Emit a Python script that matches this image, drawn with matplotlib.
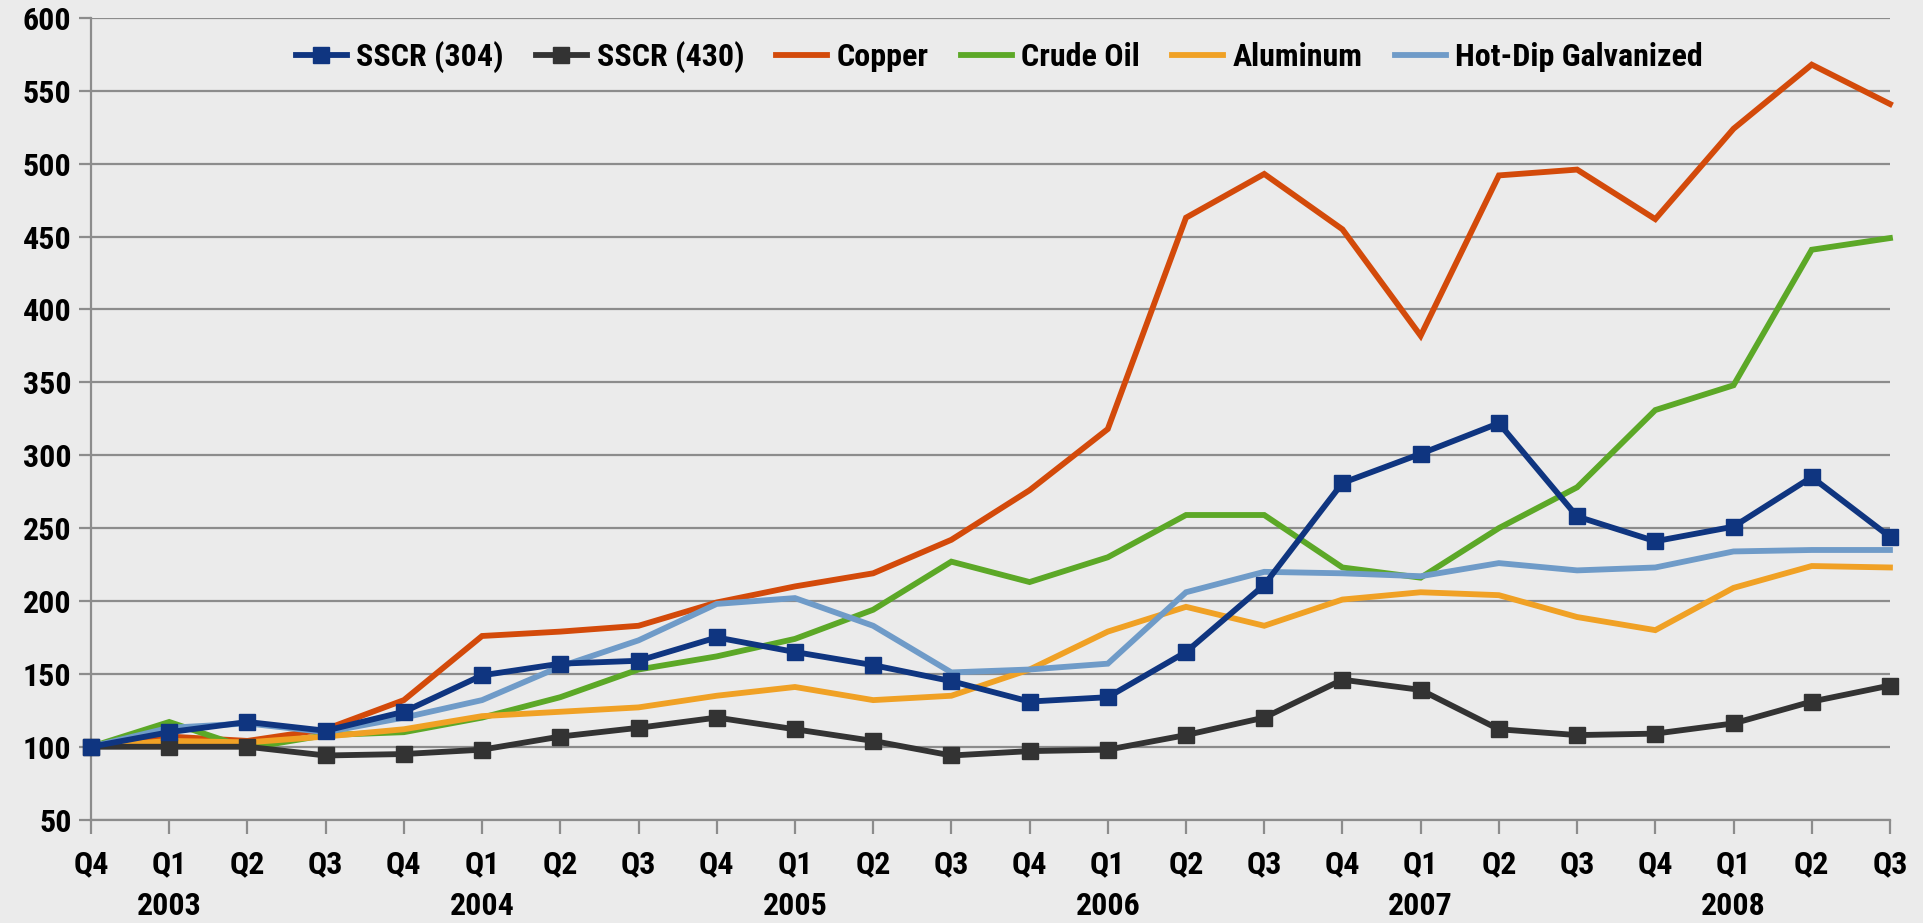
import matplotlib
matplotlib.use("Agg")
import matplotlib.pyplot as plt
from matplotlib import font_manager

quarters = ["Q4", "Q1", "Q2", "Q3", "Q4", "Q1", "Q2", "Q3", "Q4", "Q1", "Q2", "Q3",
            "Q4", "Q1", "Q2", "Q3", "Q4", "Q1", "Q2", "Q3", "Q4", "Q1", "Q2", "Q3"]
years = ["2003", "2004", "2005", "2006", "2007", "2008"]
year_idx = [1, 5, 9, 13, 17, 21]

sscr304 = [100, 110, 117, 111, 124, 149, 157, 159, 175, 165, 156, 145,
           131, 134, 165, 211, 281, 301, 322, 258, 241, 251, 285, 244]
sscr430 = [100, 100, 100, 94, 95, 98, 107, 113, 120, 112, 104, 94,
           97, 98, 108, 120, 146, 139, 112, 108, 109, 116, 131, 142]
copper = [100, 107, 104, 112, 132, 176, 179, 183, 199, 210, 219, 242,
          276, 318, 463, 493, 455, 382, 492, 496, 462, 524, 568, 541]
crude = [100, 117, 99, 108, 110, 120, 134, 153, 162, 174, 194, 227,
         213, 230, 259, 259, 223, 216, 250, 278, 331, 348, 441, 449]
aluminum = [100, 104, 103, 107, 112, 121, 124, 127, 135, 141, 132, 135,
            153, 179, 196, 183, 201, 206, 204, 189, 180, 209, 224, 223]
hdg = [100, 113, 116, 110, 120, 132, 155, 173, 198, 202, 183, 151,
       153, 157, 206, 220, 219, 217, 226, 221, 223, 234, 235, 235]

names = ["SSCR (304)", "SSCR (430)", "Copper", "Crude Oil", "Aluminum", "Hot-Dip Galvanized"]

available = {f.name for f in font_manager.fontManager.ttflist}
fams = [f for f in ["Liberation Sans Narrow", "Roboto Condensed", "Roboto", "DejaVu Sans"] if f in available]
plt.rcParams['font.family'] = fams
plt.rcParams['font.weight'] = 'bold'

FS = 23
bg = "#EBEBEB"
fig = plt.figure(figsize=(19.24, 9.23), dpi=100, facecolor=bg)
ax = fig.add_axes([0.0473, 0.112, 0.9350, 0.8685], facecolor=bg)

x = list(range(len(quarters)))
series = [
    (sscr304, "#0F3580", "s"),
    (sscr430, "#333333", "s"),
    (copper, "#D34A0A", None),
    (crude, "#5CA827", None),
    (aluminum, "#F0A125", None),
    (hdg, "#6F9BC8", None),
]
order = [2, 3, 4, 5, 1, 0]
handles = {}
for i in order:
    vals, col, mk = series[i]
    ln, = ax.plot(x, vals, color=col, lw=4.2, marker=mk, markersize=11.5,
                  solid_joinstyle='miter', clip_on=False, zorder=3 + (1 if mk else 0),
                  label=names[i])
    handles[i] = ln

ax.set_xlim(0, len(quarters) - 1)
ax.set_ylim(50, 600)
ax.set_yticks(range(50, 601, 50))
ax.set_xticks(x)
ax.set_xticklabels(quarters)
ax.yaxis.grid(True, color="#8C8C8C", lw=1.6)
ax.set_axisbelow(True)
for s in ["top", "right"]:
    ax.spines[s].set_visible(False)
for s in ["left", "bottom"]:
    ax.spines[s].set_color("#8C8C8C")
    ax.spines[s].set_linewidth(1.6)
ax.tick_params(axis='y', length=9, width=1.6, color="#8C8C8C", labelsize=FS, pad=5)
ax.tick_params(axis='x', length=10, width=1.6, color="#8C8C8C", labelsize=FS, pad=11)
for lab in ax.get_xticklabels() + ax.get_yticklabels():
    lab.set_fontweight('bold')

for yi, yl in zip(year_idx, years):
    ax.text(yi, -0.108, yl, transform=ax.get_xaxis_transform(), ha='center', va='center',
            fontsize=FS, fontweight='bold')

leg = ax.legend([handles[i] for i in range(6)], names, loc='upper center',
                bbox_to_anchor=(0.505, 1.007), ncol=6, frameon=False,
                handlelength=1.6, handletextpad=0.3, columnspacing=1.0,
                prop={'size': FS, 'weight': 'bold'})

fig.savefig("out.png", dpi=100, facecolor=bg)
